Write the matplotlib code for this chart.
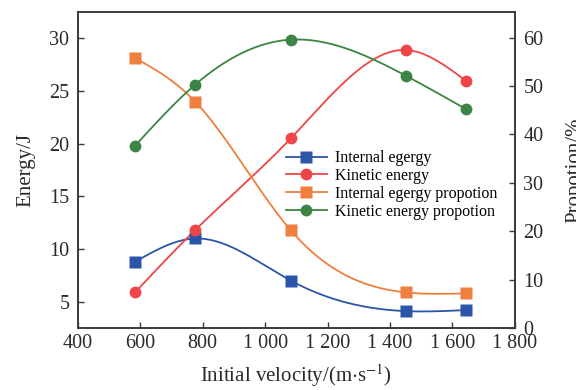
import numpy as np
import matplotlib
matplotlib.use("Agg")
import matplotlib.pyplot as plt
from matplotlib.ticker import FuncFormatter

plt.rcParams['font.family'] = ['Liberation Serif', 'DejaVu Serif']
plt.rcParams['mathtext.fontset'] = 'stix'

velocity = [584, 776, 1082, 1452, 1642]
internal_energy = [8.8, 11.0, 7.0, 4.1, 4.2]
kinetic_energy = [5.9, 11.8, 20.5, 28.9, 26.0]
internal_prop = [55.8, 46.8, 20.2, 7.35, 7.15]
kinetic_prop = [37.7, 50.3, 59.6, 52.1, 45.3]


def smooth(x, y, n=200):
    # natural cubic spline through the points, just for drawing the curve
    x = np.asarray(x, float)
    y = np.asarray(y, float)
    k = len(x)
    h = np.diff(x)
    A = np.zeros((k, k))
    b = np.zeros(k)
    A[0, 0] = A[-1, -1] = 1
    for i in range(1, k - 1):
        A[i, i - 1] = h[i - 1]
        A[i, i] = 2 * (h[i - 1] + h[i])
        A[i, i + 1] = h[i]
        b[i] = 6 * ((y[i + 1] - y[i]) / h[i] - (y[i] - y[i - 1]) / h[i - 1])
    M = np.linalg.solve(A, b)
    xs = np.linspace(x[0], x[-1], n)
    ys = np.empty_like(xs)
    for j, t in enumerate(xs):
        i = min(np.searchsorted(x, t, side='right') - 1, k - 2)
        a, c = x[i], x[i + 1]
        ys[j] = (M[i] * (c - t) ** 3 / (6 * h[i]) + M[i + 1] * (t - a) ** 3 / (6 * h[i])
                 + (y[i] / h[i] - M[i] * h[i] / 6) * (c - t)
                 + (y[i + 1] / h[i] - M[i + 1] * h[i] / 6) * (t - a))
    return xs, ys


blue = '#2b55a8'
red = '#ee4548'
orange = '#ee7f3e'
green = '#3b8443'
spine_c = '#3a3a3a'
txt_c = '#2a2a2a'

fig = plt.figure(figsize=(5.76, 3.9), dpi=100)
ax = fig.add_axes([0.135, 0.159, 0.759, 0.810])
ax2 = ax.twinx()

lw = 1.3
ms = 8.5
handles = []
for axis, y, c, m, lab in [(ax, internal_energy, blue, 's', 'Internal egergy'),
                           (ax, kinetic_energy, red, 'o', 'Kinetic energy'),
                           (ax2, internal_prop, orange, 's', 'Internal egergy propotion'),
                           (ax2, kinetic_prop, green, 'o', 'Kinetic energy propotion')]:
    xs, ys = smooth(velocity, y)
    axis.plot(xs, ys, color=c, lw=lw, zorder=2)
    axis.plot(velocity, y, ls='none', marker=m, ms=ms, color=c, mec='none', zorder=3)
    h, = ax.plot([], [], color=c, lw=lw, marker=m, ms=ms, mec='none', label=lab)
    handles.append(h)

ax.set_xlim(400, 1800)
ax.set_ylim(2.5, 32.5)
ax2.set_ylim(0, 65.3)
ax.set_xticks(range(400, 1801, 200))
ax.set_yticks([5, 10, 15, 20, 25, 30])
ax2.set_yticks([0, 10, 20, 30, 40, 50, 60])
ax.xaxis.set_major_formatter(FuncFormatter(lambda v, p: f"{int(v):,}".replace(',', ' ')))

for a in (ax, ax2):
    for s in a.spines.values():
        s.set_color(spine_c)
        s.set_linewidth(1.2)
    a.tick_params(direction='in', length=4, width=1, color=spine_c,
                  labelsize=14.5, labelcolor=txt_c, pad=6)
ax.tick_params(axis='x', pad=4)

ax.set_xlabel(r'Initial velocity/(m$\cdot$s$^{-1}$)', fontsize=15, color=txt_c, labelpad=7)
ax.set_ylabel('Energy/J', fontsize=15, color=txt_c, labelpad=10)
ax2.set_ylabel('Propotion/%', fontsize=15, color=txt_c, labelpad=16)

ax.legend(handles=handles, loc='upper left', bbox_to_anchor=(0.476, 0.563), frameon=False,
          fontsize=11.5, handlelength=2.55, handletextpad=0.55, labelspacing=0.12,
          borderaxespad=0, borderpad=0)

fig.savefig('out.png', dpi=100)
